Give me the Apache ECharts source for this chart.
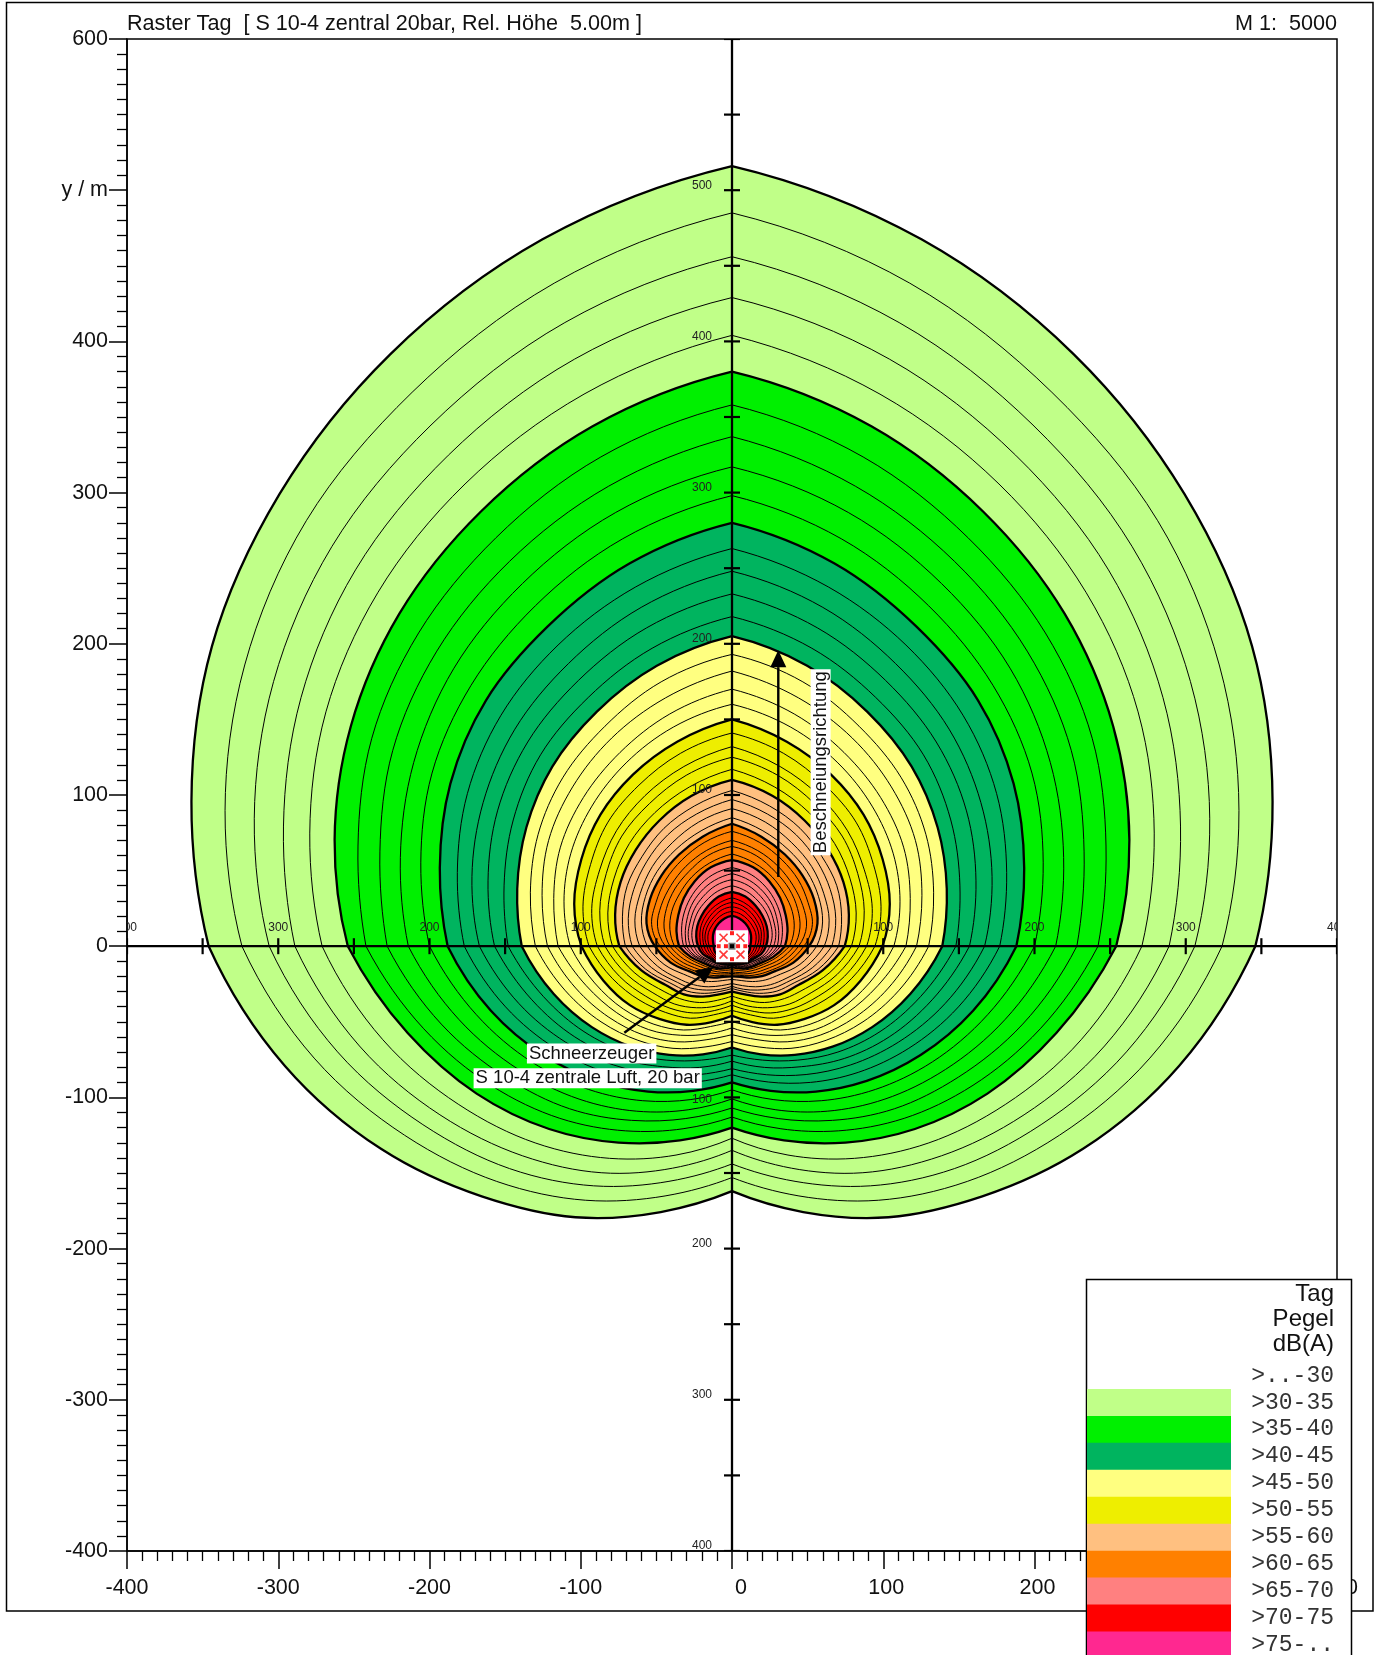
<!DOCTYPE html>
<html>
<head>
<meta charset="utf-8">
<title>Raster Tag</title>
<script src="https://cdn.jsdelivr.net/npm/echarts@6/dist/echarts.min.js"></script>
<style>
html,body{margin:0;padding:0;background:#fff}
#name{width:1380px;height:1655px}
</style>
</head>
<body>
<div id="name"></div>
<script>
// bearings from the source, clockwise from the blowing direction (right half, left is mirrored)
const bearings = [0, 15, 30, 45, 60, 75, 90, 105, 120, 135, 150, 165, 180];
// distance in m of each 1 dB contour along those bearings
const r30 = [516, 484, 452, 423, 397, 370, 346, 306, 268, 234, 207, 182, 162];
const r31 = [485, 454, 423, 398, 372, 347, 324, 286, 250, 220, 194, 171, 153];
const r32 = [456, 427, 398, 374, 350, 327, 306, 270, 236, 208, 183, 161, 144];
const r33 = [429, 402, 375, 352, 329, 307, 289, 255, 223, 196, 173, 152, 135];
const r34 = [404, 378, 353, 331, 310, 289, 271, 239, 209, 184, 162, 143, 127];
const r35 = [380, 356, 332, 311, 291, 272, 254, 222, 195, 171, 150, 133, 120];
const r36 = [358, 335, 312, 293, 275, 256, 242, 211, 184, 161, 141, 125, 113];
const r37 = [337, 315, 294, 276, 259, 241, 228, 199, 173, 152, 133, 118, 107];
const r38 = [317, 297, 277, 260, 243, 227, 214, 187, 163, 143, 126, 112, 101];
const r39 = [298, 279, 260, 244, 229, 213, 200, 175, 153, 134, 118, 105, 95];
const r40 = [280, 262, 244, 230, 215, 200, 188, 165, 144, 126, 111, 99, 90];
const r41 = [263, 246, 230, 216, 202, 188, 177, 155, 135, 118, 104, 93, 85];
const r42 = [248, 232, 216, 203, 190, 178, 167, 146, 127, 111, 98, 88, 81];
const r43 = [233, 218, 203, 191, 179, 167, 157, 137, 120, 105, 92, 83, 76];
const r44 = [218, 204, 190, 179, 167, 156, 148, 129, 113, 99, 87, 78, 72];
const r45 = [205, 192, 179, 168, 157, 147, 139, 122, 107, 94, 83, 74, 67];
const r46 = [193, 181, 168, 158, 148, 138, 130, 114, 100, 88, 78, 69, 63];
const r47 = [182, 170, 159, 149, 140, 130, 122, 107, 94, 83, 73, 64, 58.5];
const r48 = [170, 159, 148, 139, 131, 122, 115, 100, 88, 78, 68, 60, 54];
const r49 = [160, 150, 140, 131, 123, 115, 107, 94, 83, 73, 64, 55, 50];
const r50 = [150, 140, 131, 123, 115, 108, 99.5, 88, 78, 68, 60, 52, 46];
const r51 = [141, 132, 123, 116, 108, 102, 94.5, 82, 71, 62, 55, 47, 42.5];
const r52 = [132, 123, 115, 108, 101, 96, 89, 77, 66, 58, 51, 44, 39];
const r53 = [125, 117, 109, 103, 96, 90.5, 84, 72, 61, 54, 47, 41, 36];
const r54 = [117, 109, 102, 96, 90, 85, 79, 67, 56, 49, 43, 37, 33];
const r55 = [110, 103, 96, 90, 85, 80, 74.5, 62, 51, 45, 38.5, 33, 30];
const r56 = [103, 96, 90, 84, 80, 75, 70.5, 59, 48, 42, 36, 31, 28];
const r57 = [97, 90.5, 85, 79.5, 75, 71, 66, 55, 45, 39, 33.5, 29.5, 26.5];
const r58 = [91, 85, 79, 74.5, 70, 66.5, 61, 51, 42, 36, 31, 27, 24.7];
const r59 = [85, 79, 74, 70, 66, 62, 56, 46.5, 37, 31.5, 27, 23.5, 22];
const r60 = [81, 75, 70, 66, 62.5, 58.5, 51, 42, 33, 28, 24, 21, 20];
const r61 = [76, 71, 66, 62, 58, 55, 47.5, 39, 31, 26, 22.5, 20, 19];
const r62 = [70, 65.5, 61, 57, 54, 51, 44, 36, 28.5, 24, 21, 19, 18];
const r63 = [66, 62, 57, 53.5, 50, 46.5, 41, 33, 26, 22, 19.5, 18, 17];
const r64 = [61, 57, 53, 49, 46, 42.5, 38, 30, 24, 20.5, 18, 16.5, 15.5];
const r65 = [57, 54, 49.5, 45, 41, 38, 35, 28, 22, 19, 17, 15, 14];
const r66 = [52, 49, 45, 41, 37.5, 34.5, 32, 26, 20.5, 18, 16, 14.5, 13.5];
const r67 = [48, 45, 41.5, 38, 34.5, 32, 30, 25, 19.5, 17, 15.5, 14, 13];
const r68 = [44, 41.5, 38, 35, 32, 30, 27.5, 23.5, 18.5, 16, 15, 13.5, 12.5];
const r69 = [40, 37.5, 34.5, 32, 29.5, 27.5, 25, 22, 18, 15.5, 14, 13, 12];
const r70 = [36, 34, 31, 28.5, 26.5, 24.5, 22.5, 20, 16.5, 15, 13.5, 12.5, 12];
const r71 = [32, 30, 28, 26, 24, 22, 20.5, 18.5, 15.5, 14.5, 13, 12, 11.5];
const r72 = [29, 27.5, 25.5, 23.5, 22, 20, 18.5, 17, 15, 14, 12.5, 11.5, 11];
const r73 = [26, 25, 23, 21.5, 20, 18.5, 16.5, 15.5, 14, 13, 12, 11, 11];
const r74 = [23, 22, 20.5, 19, 18, 16.5, 15, 14, 13, 12, 11.5, 11, 10.5];
const r75 = [20, 19, 17.5, 16, 14.5, 13, 12, 12, 11.5, 11, 11, 10.5, 10];
const contours = [r30,r31,r32,r33,r34,r35,r36,r37,r38,r39,r40,r41,r42,r43,r44,r45,
  r46,r47,r48,r49,r50,r51,r52,r53,r54,r55,r56,r57,r58,r59,r60,r61,r62,r63,r64,r65,
  r66,r67,r68,r69,r70,r71,r72,r73,r74,r75];

const bandLabels = ['>..-30','>30-35','>35-40','>40-45','>45-50','>50-55','>55-60','>60-65','>65-70','>70-75','>75-..'];
const bandColors = [null,'#c0ff88','#00f000','#00b45f','#ffff80','#eeee00','#ffc080','#ff8000','#ff8080','#ff0000','#ff2890'];

const crossTicksX = [-400,-350,-300,-250,-200,-150,-100,-50,50,100,150,200,250,300,350,400];
const crossTicksY = [-400,-350,-300,-250,-200,-150,-100,-50,50,100,150,200,250,300,350,400,450,500,550,600];
const crossLabelsX = [-400,-300,-200,-100,100,200,300,400];
const crossLabelsY = [500,400,300,200,100,-100,-200,-300,-400];

const directionArrow = [[30.6,45.8],[30.6,195.8]];
const sourceArrow = [[-71.2,-57.3],[-12.4,-13.7]];
const sourceBox = 10.6;
const sourceCrosses = [[-5.6,5.6],[5.6,5.6],[-5.6,-5.6],[5.6,-5.6]];
const sourceBlobs = [[0,8.6],[0,-8.6],[-8.8,0],[8.8,0],[-4,0],[4,0]];

const legendRows = 1348, rowH = 26.95;
const H = 15*Math.PI/180;
const cornerIdx = 6; // the contours have a bend where they cross y = 0

// slopes dr/dbearing at each read point, one value coming in and one going out
function slopes(r){
  let n = r.length, inn = [], out = [];
  for(let i=0;i<n;i++){
    if(i===0 || i===cornerIdx) out[i] = (-3*r[i]+4*r[i+1]-r[i+2])/(2*H);
    else if(i<n-1) out[i] = (r[i+1]-r[i-1])/(2*H);
    if(i===n-1 || i===cornerIdx) inn[i] = (3*r[i]-4*r[i-1]+r[i-2])/(2*H);
    else if(i>0) inn[i] = (r[i+1]-r[i-1])/(2*H);
  }
  return {inn:inn,out:out};
}
function tangent(d,a,s){ return [s*Math.sin(a)+d*Math.cos(a), s*Math.cos(a)-d*Math.sin(a)]; }

// closed path through the read points: down the right side, back up the left
function contourPath(api, r){
  let sl = slopes(r), segs = [];
  for(let i=0;i<r.length-1;i++){
    let a0 = bearings[i]*Math.PI/180, a1 = bearings[i+1]*Math.PI/180;
    let p0 = [r[i]*Math.sin(a0), r[i]*Math.cos(a0)], p1 = [r[i+1]*Math.sin(a1), r[i+1]*Math.cos(a1)];
    let t0 = tangent(r[i],a0,sl.out[i]), t1 = tangent(r[i+1],a1,sl.inn[i+1]);
    segs.push([p0,[p0[0]+t0[0]*H/3,p0[1]+t0[1]*H/3],[p1[0]-t1[0]*H/3,p1[1]-t1[1]*H/3],p1]);
  }
  let px = function(p,side){ let c = api.coord([side*p[0],p[1]]); return c[0].toFixed(2)+' '+c[1].toFixed(2); };
  let d = 'M'+px(segs[0][0],1);
  segs.forEach(function(s){ d += 'C'+px(s[1],1)+' '+px(s[2],1)+' '+px(s[3],1); });
  for(let i=segs.length-1;i>=0;i--){
    let s = segs[i];
    d += 'C'+px(s[2],-1)+' '+px(s[1],-1)+' '+px(s[0],-1);
  }
  return d+'Z';
}

function renderContour(params, api){
  let i = params.dataIndex;
  let band = Math.floor(i/5)+1;
  let thick = i%5===0;
  return {type:'path', shape:{pathData:contourPath(api,contours[i])},
    style:{fill:bandColors[band], stroke:'#000', lineWidth:thick?2.3:1, lineJoin:'round'}};
}

function renderCross(params, api){
  let kids = [];
  let line = function(a,b,w){
    kids.push({type:'line', shape:{x1:a[0],y1:a[1],x2:b[0],y2:b[1]}, style:{stroke:'#000',lineWidth:w}});
  };
  line(api.coord([-400,0]), api.coord([400,0]), 2.3);
  line(api.coord([0,-400]), api.coord([0,600]), 2.3);
  crossTicksX.forEach(function(v){
    let p = api.coord([v,0]);
    line([p[0],p[1]-8],[p[0],p[1]+8],2.2);
  });
  crossTicksY.forEach(function(v){
    let p = api.coord([0,v]);
    line([p[0]-8,p[1]],[p[0]+8,p[1]],2.2);
  });
  crossLabelsX.forEach(function(v){
    let p = api.coord([v,0]);
    kids.push({type:'text', x:p[0], y:p[1]-19, style:{text:String(Math.abs(v)), fill:'#222', font:'12px "Liberation Sans"', align:'center', verticalAlign:'middle'}});
  });
  crossLabelsY.forEach(function(v){
    let p = api.coord([0,v]);
    kids.push({type:'text', x:p[0]-20, y:p[1]+(v===-100?2:-5), style:{text:String(Math.abs(v)), fill:'#222', font:'12px "Liberation Sans"', align:'right', verticalAlign:'middle'}});
  });
  return {type:'group', children:kids};
}

function arrow(api, seg, kids){
  let a = api.coord(seg[0]), b = api.coord(seg[1]);
  let len = Math.hypot(b[0]-a[0],b[1]-a[1]);
  let ux = (b[0]-a[0])/len, uy = (b[1]-a[1])/len;
  let bx = b[0]-ux*17, by = b[1]-uy*17;
  kids.push({type:'line', shape:{x1:a[0],y1:a[1],x2:bx,y2:by}, style:{stroke:'#000',lineWidth:2.4}});
  kids.push({type:'polygon', shape:{points:[[b[0],b[1]],[bx-uy*8,by+ux*8],[bx+uy*8,by-ux*8]]}, style:{fill:'#000'}});
}

function renderNotes(params, api){
  let kids = [];
  arrow(api, directionArrow, kids);
  arrow(api, sourceArrow, kids);
  let tl = api.coord([-sourceBox,sourceBox]), br = api.coord([sourceBox,-sourceBox]);
  kids.push({type:'rect', shape:{x:tl[0],y:tl[1],width:br[0]-tl[0],height:br[1]-tl[1]}, style:{fill:'#fff'}});
  sourceCrosses.forEach(function(c){
    let p = api.coord(c);
    kids.push({type:'line', shape:{x1:p[0]-4,y1:p[1]-4,x2:p[0]+4,y2:p[1]+4}, style:{stroke:'#ff3a3a',lineWidth:1.6}});
    kids.push({type:'line', shape:{x1:p[0]-4,y1:p[1]+4,x2:p[0]+4,y2:p[1]-4}, style:{stroke:'#ff3a3a',lineWidth:1.6}});
  });
  sourceBlobs.forEach(function(c){
    let p = api.coord(c);
    kids.push({type:'rect', shape:{x:p[0]-2,y:p[1]-2,width:4,height:4}, style:{fill:'#ff2020'}});
  });
  let o = api.coord([0,0]);
  kids.push({type:'rect', shape:{x:o[0]-3.5,y:o[1]-3.5,width:7,height:7}, style:{fill:'#777'}});
  kids.push({type:'rect', shape:{x:o[0]-2,y:o[1]-2,width:4,height:4}, style:{fill:'#000'}});
  let label = function(txt,pos,rot){
    let p = api.coord(pos);
    kids.push({type:'text', x:p[0], y:p[1], rotation:rot||0, style:{text:txt, fill:'#111', font:'18.5px "Liberation Sans"',
      align:'center', verticalAlign:'middle', backgroundColor:'#fff', padding:[1,2,0,2]}});
  };
  label('Beschneiungsrichtung',[58.6,121.7],Math.PI/2);
  label('Schneerzeuger',[-92.8,-71]);
  label('S 10-4 zentrale Luft, 20 bar',[-95.4,-87.4]);
  return {type:'group', children:kids};
}

// frame and legend box
let graphics = [
  {type:'rect', z:1, shape:{x:6.5,y:2.5,width:1366.5,height:1608.5}, style:{fill:null,stroke:'#000',lineWidth:1.5}},
  {type:'rect', z:100, shape:{x:1086.5,y:1279.5,width:265,height:400}, style:{fill:'#fff',stroke:'#000',lineWidth:1.5}}
];
['Tag','Pegel','dB(A)'].forEach(function(t,i){
  graphics.push({type:'text', z:102, x:1334, y:1294+i*25.2, style:{text:t, fill:'#111', font:'24px "Liberation Sans"', align:'right', verticalAlign:'middle'}});
});
bandLabels.forEach(function(t,i){
  let y0 = legendRows+i*rowH+14;
  if(bandColors[i]){
    graphics.push({type:'rect', z:101, shape:{x:1087,y:y0,width:144,height:rowH+0.5}, style:{fill:bandColors[i]}});
  }
  graphics.push({type:'text', z:102, x:1334, y:y0+rowH/2, style:{text:t, fill:'#333', font:'23px "Liberation Mono"', align:'right', verticalAlign:'middle'}});
});

let myChart = echarts.init(document.getElementById('name'));
myChart.setOption({
  animation:false,
  textStyle:{fontFamily:'"Liberation Sans"'},
  title:[
    {text:'Raster Tag  [ S 10-4 zentral 20bar, Rel. Höhe  5.00m ]', left:127, top:13, padding:0,
      textStyle:{fontWeight:'normal',fontSize:21.6,color:'#111',fontFamily:'"Liberation Sans"'}},
    {text:'M 1:  5000', right:43, top:13, padding:0,
      textStyle:{fontWeight:'normal',fontSize:21.6,color:'#111',fontFamily:'"Liberation Sans"'}}
  ],
  grid:{left:127,right:43,top:39,bottom:104,show:true,backgroundColor:'#fff',borderColor:'#000',borderWidth:1.5},
  xAxis:{
    type:'value', min:-400, max:400, interval:100,
    axisLine:{show:true,onZero:false,lineStyle:{color:'#000',width:1.5}},
    axisTick:{show:true,length:18,lineStyle:{color:'#000',width:1.5}},
    minorTick:{show:true,splitNumber:10,length:10,lineStyle:{color:'#000',width:1.3}},
    splitLine:{show:false},
    axisLabel:{margin:26,fontSize:21.5,color:'#111',fontFamily:'"Liberation Sans"',
      formatter:function(v){ return v===0?'   0':(v>0?' '+v:String(v)); }}
  },
  yAxis:{
    type:'value', min:-400, max:600, interval:100,
    axisLine:{show:true,onZero:false,lineStyle:{color:'#000',width:1.5}},
    axisTick:{show:true,length:18,lineStyle:{color:'#000',width:1.5}},
    minorTick:{show:true,splitNumber:10,length:10,lineStyle:{color:'#000',width:1.3}},
    splitLine:{show:false},
    axisLabel:{margin:19,fontSize:21.5,color:'#111',fontFamily:'"Liberation Sans"',padding:[2,0,0,0],
      formatter:function(v){ return v===500?'y / m':String(v); }}
  },
  graphic:{elements:graphics},
  series:[
    {type:'custom', name:'Pegel', z:2, clip:true, silent:true, renderItem:renderContour,
      data:contours.map(function(r,i){ return [0,0,30+i]; })},
    {type:'custom', name:'Achsen', z:3, clip:true, silent:true, renderItem:renderCross, data:[[0,0]]},
    {type:'custom', name:'Hinweise', z:4, clip:true, silent:true, renderItem:renderNotes, data:[[0,0]]}
  ]
});
</script>
</body>
</html>
